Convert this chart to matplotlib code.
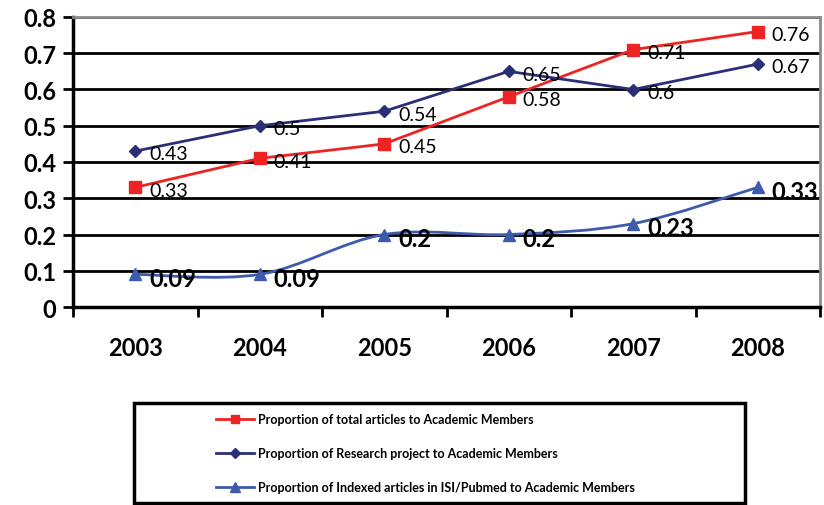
import numpy as np
import matplotlib.pyplot as plt
from matplotlib.path import Path
from matplotlib.patches import PathPatch, Rectangle
from matplotlib.lines import Line2D

plt.rcParams['font.family'] = ['Lato', 'DejaVu Sans']

# data
years = ['2003', '2004', '2005', '2006', '2007', '2008']
total_articles = [0.33, 0.41, 0.45, 0.58, 0.71, 0.76]
research_projects = [0.43, 0.5, 0.54, 0.65, 0.6, 0.67]
indexed_articles = [0.09, 0.09, 0.2, 0.2, 0.23, 0.33]

labels = ['Proportion of total articles to Academic Members',
          'Proportion of Research project to Academic Members',
          'Proportion of Indexed articles in ISI/Pubmed to Academic Members']

red = '#ee2424'
navy = '#2b2f78'
blue = '#3d5aac'


def smooth_path(x, y):
    # catmull-rom style bezier segments, like the excel "smoothed line" option
    verts = [(x[0], y[0])]
    codes = [Path.MOVETO]
    n = len(x)
    for i in range(n - 1):
        x0, y0 = (x[i - 1], y[i - 1]) if i > 0 else (x[i], y[i])
        x3, y3 = (x[i + 2], y[i + 2]) if i + 2 < n else (x[i + 1], y[i + 1])
        c1 = (x[i] + (x[i + 1] - x0) / 6, y[i] + (y[i + 1] - y0) / 6)
        c2 = (x[i + 1] - (x3 - x[i]) / 6, y[i + 1] - (y3 - y[i]) / 6)
        verts += [c1, c2, (x[i + 1], y[i + 1])]
        codes += [Path.CURVE4] * 3
    return Path(verts, codes)


fig = plt.figure(figsize=(8.24, 5.06), dpi=100)
ax = fig.add_axes([73 / 824, 1 - 308 / 506, 747 / 824, 290 / 506])

x = np.arange(1, len(years) + 1)

ax.plot(x, total_articles, color=red, lw=2, marker='s', ms=8, zorder=4)
ax.plot(x, research_projects, color=navy, lw=2, marker='D', ms=6, zorder=4)
ax.add_patch(PathPatch(smooth_path(x, indexed_articles), fill=False,
                       edgecolor=blue, lw=2, zorder=4))
ax.plot(x, indexed_articles, color=blue, lw=0, marker='^', ms=8, zorder=4)

for xi, v in zip(x, total_articles):
    ax.annotate(f'{v:g}', (xi, v), xytext=(10, -2), textcoords='offset points',
                ha='left', va='center', fontsize=14, zorder=5)
for xi, v in zip(x, research_projects):
    ax.annotate(f'{v:g}', (xi, v), xytext=(10, -2), textcoords='offset points',
                ha='left', va='center', fontsize=14, zorder=5)
for xi, v in zip(x, indexed_articles):
    ax.annotate(f'{v:g}', (xi, v), xytext=(10, -3), textcoords='offset points',
                ha='left', va='center', fontsize=17, fontweight='bold', zorder=5)

ax.set_xlim(0.5, 6.5)
ax.set_ylim(0, 0.8)
ax.set_yticks(np.arange(0, 0.81, 0.1))
ax.set_yticklabels(['0'] + [f'{t:.1f}' for t in np.arange(0.1, 0.81, 0.1)],
                   fontsize=17, fontweight='bold')
ax.set_xticks(x)
ax.set_xticklabels(years, fontsize=17, fontweight='bold')
ax.set_xticks(np.arange(0.5, 7, 1), minor=True)
ax.tick_params(axis='x', which='major', length=0, pad=21)
ax.tick_params(axis='x', which='minor', length=7, width=2, direction='out')
ax.tick_params(axis='y', length=7, width=2, direction='out', pad=5)

ax.grid(axis='y', color='black', lw=2)
ax.set_axisbelow(True)
for s in ['left', 'bottom']:
    ax.spines[s].set_linewidth(2.5)
    ax.spines[s].set_color('black')
for s in ['top', 'right']:
    ax.spines[s].set_linewidth(2)
    ax.spines[s].set_color('#8c8c8c')

# legend box below the chart
fig.patches.append(Rectangle((134 / 824, 2 / 506), 611 / 824, 100 / 506,
                             transform=fig.transFigure, fill=False,
                             edgecolor='black', lw=2.5))
handles = [Line2D([], [], color=red, lw=2, marker='s', ms=6),
           Line2D([], [], color=navy, lw=2, marker='D', ms=5),
           Line2D([], [], color=blue, lw=2, marker='^', ms=7)]
fig.legend(handles, labels, loc='upper left', bbox_to_anchor=(205 / 824, 1 - 403 / 506),
           frameon=False, handlelength=3.0, handletextpad=0.35, labelspacing=1.75,
           prop={'size': 9, 'weight': 'bold'})

fig.savefig('out.png', dpi=100)
